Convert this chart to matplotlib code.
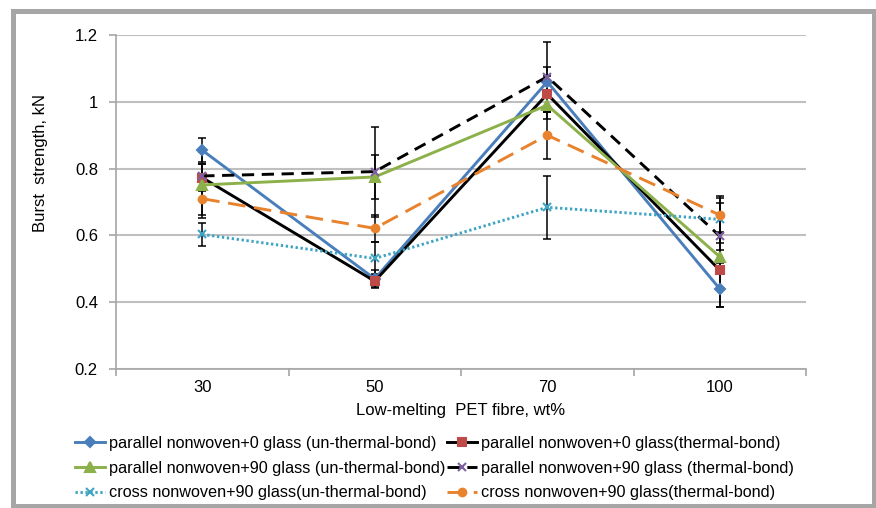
import matplotlib
matplotlib.use("Agg")
import matplotlib.pyplot as plt
from matplotlib.patches import Rectangle
from matplotlib.ticker import FixedLocator

plt.rcParams['font.family'] = ['Liberation Sans', 'DejaVu Sans']

categories = ["30", "50", "70", "100"]

labels = [
    "parallel nonwoven+0 glass (un-thermal-bond)",
    "parallel nonwoven+0 glass(thermal-bond)",
    "parallel nonwoven+90 glass (un-thermal-bond)",
    "parallel nonwoven+90 glass (thermal-bond)",
    "cross nonwoven+90 glass(un-thermal-bond)",
    "cross nonwoven+90 glass(thermal-bond)",
]

par0_untb = [0.855, 0.470, 1.060, 0.440]
par0_tb = [0.773, 0.463, 1.023, 0.496]
par90_untb = [0.751, 0.775, 0.990, 0.536]
par90_tb = [0.778, 0.791, 1.075, 0.598]
cross90_untb = [0.603, 0.531, 0.684, 0.648]
cross90_tb = [0.710, 0.621, 0.900, 0.661]

err_par0_untb = [0.036, 0.025, 0.043, 0.055]
err_par0_tb = [0.040, 0.020, 0.055, 0.110]
err_par90_untb = [0.100, 0.065, 0.040, 0.020]
err_par90_tb = [0.035, 0.135, 0.105, 0.100]
err_cross90_untb = [0.035, 0.050, 0.095, 0.070]
err_cross90_tb = [0.050, 0.040, 0.070, 0.050]

values = [par0_untb, par0_tb, par90_untb, par90_tb, cross90_untb, cross90_tb]
errors = [err_par0_untb, err_par0_tb, err_par90_untb, err_par90_tb,
          err_cross90_untb, err_cross90_tb]

styles = [
    dict(color="#4a7ebb", ls="-", marker="D", ms=5, mfc="#4a7ebb", mec="#4a7ebb"),
    dict(color="#000000", ls="-", marker="s", ms=5.5, mfc="#be4b48", mec="#be4b48"),
    dict(color="#8cb04a", ls="-", marker="^", ms=6.5, mfc="#8cb04a", mec="#8cb04a"),
    dict(color="#000000", ls=(0, (4.2, 2.6)), marker="x", ms=5.5, mfc="#7d60a0", mec="#7d60a0"),
    dict(color="#3ea4c4", ls=(0, (0.8, 0.9)), marker="x", ms=5.5, mfc="#3ea4c4", mec="#3ea4c4"),
    dict(color="#e8822d", ls=(0, (6, 3)), marker="o", ms=5.5, mfc="#e8822d", mec="#e8822d"),
]

W, H = 876, 508
fig = plt.figure(figsize=(W / 100, H / 100), dpi=100)
ax = fig.add_axes([116 / W, 1 - 369 / H, 690 / W, 334 / H])

x = list(range(len(categories)))
handles = []
for vals, errs, lab, st in zip(values, errors, labels, styles):
    ax.errorbar(x, vals, yerr=errs, fmt="none", ecolor="black",
                elinewidth=1.1, capsize=3, capthick=1.1, zorder=3)
    (ln,) = ax.plot(x, vals, color=st["color"], ls=st["ls"], lw=2.1,
                    marker=st["marker"], ms=st["ms"], mfc=st["mfc"],
                    mec=st["mec"], mew=1.5, label=lab, zorder=4)
    ln.set_dash_capstyle("butt")
    handles.append(ln)

ax.set_xlim(-0.5, 3.5)
ax.set_ylim(0.2, 1.2)
ax.set_xticks(x)
ax.set_xticklabels(categories)
ax.xaxis.set_minor_locator(FixedLocator([-0.5, 0.5, 1.5, 2.5, 3.5]))
ax.tick_params(axis="x", which="major", length=0, pad=8, labelsize=12)
ax.tick_params(axis="x", which="minor", length=5, color="#a6a6a6", width=1.2)

yt = [0.2, 0.4, 0.6, 0.8, 1.0, 1.2]
ax.set_yticks(yt)
ax.set_yticklabels(["0.2", "0.4", "0.6", "0.8", "1", "1.2"])
ax.tick_params(axis="y", length=5, color="#a6a6a6", width=1.2, pad=8, labelsize=12)

ax.grid(axis="y", color="#bfbfbf", lw=1.5, zorder=0)
ax.set_axisbelow(True)
for side in ("top", "right"):
    ax.spines[side].set_visible(False)
for side in ("left", "bottom"):
    ax.spines[side].set_color("#a6a6a6")
    ax.spines[side].set_linewidth(1.2)

ax.set_xlabel("Low-melting  PET fibre, wt%", fontsize=12, labelpad=6)
ax.set_ylabel("Burst  strength, kN", fontsize=12)
ax.yaxis.set_label_coords(-0.0985, 0.617)

order = [0, 2, 4, 1, 3, 5]
leg = fig.legend([handles[i] for i in order], [labels[i] for i in order],
                 ncol=2, loc="upper left", bbox_to_anchor=(75 / W, 1 - 436 / H),
                 frameon=False, fontsize=11.7, handlelength=1.85, handletextpad=0.25,
                 columnspacing=0.08, labelspacing=0.6, borderpad=0,
                 borderaxespad=0)

fig.patches.append(Rectangle((12.5, 2.0), W - 15.0, H - 12.5, transform=None,
                             fill=False, edgecolor="#a6a6a6", lw=3.6))

fig.savefig("out.png", dpi=100)
